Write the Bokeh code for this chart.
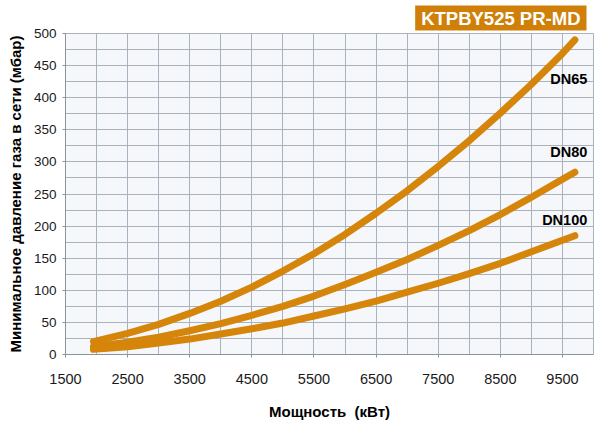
from bokeh.plotting import figure
from bokeh.models import Range1d, FixedTicker, Label, Title
from bokeh.embed import file_html
from bokeh.resources import INLINE

# data
power_kw = [1950, 2500, 3000, 3500, 4000, 4500, 5000, 5500, 6000, 6500,
            7000, 7500, 8000, 8500, 9000, 9500, 9700]
dn65 = [20, 33, 47, 64, 83, 105, 130, 157, 187, 220, 255, 293, 333, 376, 421, 469, 490]
dn80 = [12, 19, 27, 37, 48, 61, 75, 91, 109, 128, 148, 170, 193, 218, 245, 273, 284]
dn100 = [8, 12, 18, 24, 32, 40, 49, 60, 71, 83, 97, 111, 126, 142, 160, 178, 185]
series_names = ["DN65", "DN80", "DN100"]
x_ticks = [1500, 2500, 3500, 4500, 5500, 6500, 7500, 8500, 9500]
x_minor = [2000, 3000, 4000, 5000, 6000, 7000, 8000, 9000, 10000]
y_ticks = [0, 50, 100, 150, 200, 250, 300, 350, 400, 450, 500]
y_minor = [25, 75, 125, 175, 225, 275, 325, 375, 425, 475]
title_text = "KTPBY525 PR-MD"
x_label = "Мощность\u00a0 (кВт)"
y_label = "Минимальное давление газа в сети (мбар)"

FONT = "Liberation Sans"
CURVE = "#d4850a"
BOX = "#d08008"
GRID = "#a9b3bd"

p = figure(width=600, height=422, output_backend="svg", toolbar_location=None,
           x_range=Range1d(1500, 10000), y_range=Range1d(0, 500),
           min_border_left=65, min_border_right=7, min_border_top=33, min_border_bottom=65)
p.background_fill_color = "#f5f7fa"
p.border_fill_color = "white"
p.outline_line_color = GRID
p.outline_line_width = 1

p.xaxis.ticker = FixedTicker(ticks=x_ticks, minor_ticks=x_minor)
p.yaxis.ticker = FixedTicker(ticks=y_ticks, minor_ticks=y_minor)
for g in (p.xgrid[0], p.ygrid[0]):
    g.grid_line_color = GRID
    g.grid_line_width = 1
    g.minor_grid_line_color = GRID
    g.minor_grid_line_width = 1

for ax in (p.xaxis[0], p.yaxis[0]):
    ax.axis_line_color = "#8a939c"
    ax.major_tick_line_color = "#8a939c"
    ax.major_tick_in = 0
    ax.major_tick_out = 3
    ax.minor_tick_line_color = None
    ax.major_label_text_font = FONT
    ax.major_label_text_color = "#1a1a1a"
    ax.axis_label_text_font = FONT
    ax.axis_label_text_font_size = "15px"
    ax.axis_label_text_font_style = "bold"
    ax.axis_label_text_color = "black"

p.xaxis.major_label_text_font_size = "14.5px"
p.yaxis.major_label_text_font_size = "13.5px"
p.xaxis.axis_label = x_label
p.yaxis.axis_label = y_label
p.xaxis.major_label_standoff = 15
p.xaxis.axis_label_standoff = 16
p.yaxis.major_label_standoff = 5
p.yaxis.axis_label_standoff = 7

for ys in (dn65, dn80, dn100):
    p.line(power_kw, ys, line_color=CURVE, line_width=7, line_cap="round", line_join="round")

label_pos = [(9900, 429), (9900, 315), (9900, 210)]
for name, (lx, ly) in zip(series_names, label_pos):
    p.add_layout(Label(x=lx, y=ly, text=name, text_align="right", text_baseline="middle",
                       text_font=FONT, text_font_size="14.5px", text_font_style="bold",
                       text_color="black"))

t = Title(text=title_text, align="right", text_font=FONT, text_font_size="18.5px",
          text_font_style="bold", text_color="white", background_fill_color=BOX,
          padding=(6, 2), standoff=6, offset=7)
p.add_layout(t, "above")

open("out.html", "w").write(file_html(p, INLINE))
